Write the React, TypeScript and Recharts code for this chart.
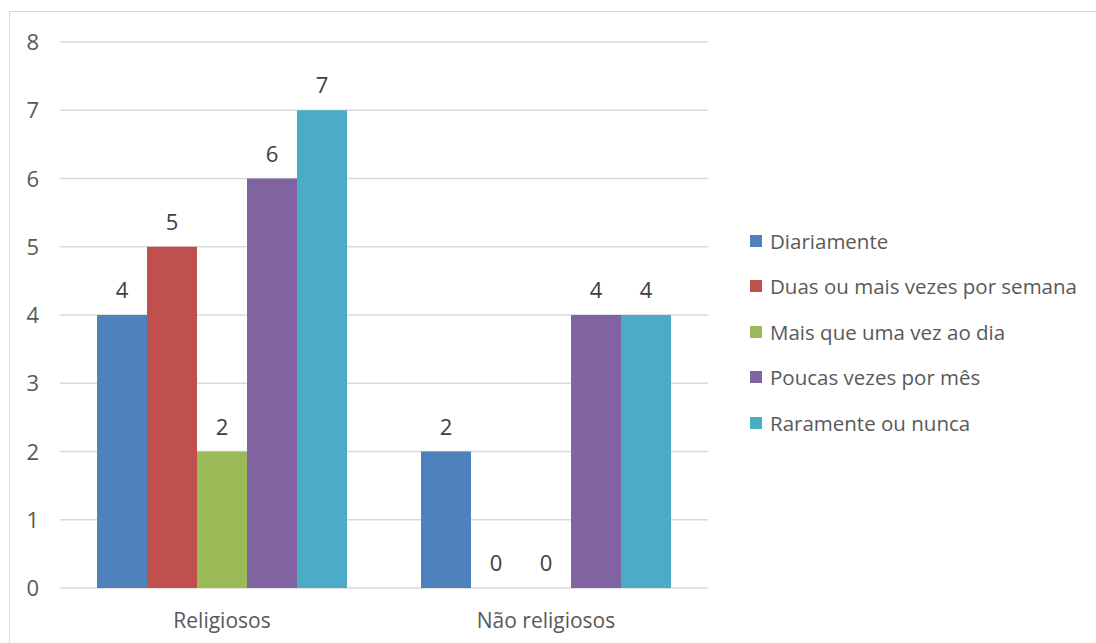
import React from 'react';
import { BarChart, Bar, XAxis, YAxis, CartesianGrid } from 'recharts';

const categories = ['Religiosos', 'Não religiosos'];
const diariamente = [4, 2];
const duasOuMais = [5, 0];
const maisQueUma = [2, 0];
const poucasVezes = [6, 4];
const raramente = [7, 4];
const yTicks = [0, 1, 2, 3, 4, 5, 6, 7, 8];

const series = [
  { key: 'diariamente', name: 'Diariamente', color: '#4F81BD', values: diariamente },
  { key: 'duas', name: 'Duas ou mais vezes por semana', color: '#C0504D', values: duasOuMais },
  { key: 'mais', name: 'Mais que uma vez ao dia', color: '#9BBB59', values: maisQueUma },
  { key: 'poucas', name: 'Poucas vezes por mês', color: '#8064A2', values: poucasVezes },
  { key: 'raramente', name: 'Raramente ou nunca', color: '#4BACC6', values: raramente },
];

const data = categories.map((name, i) => {
  const row: any = { name };
  series.forEach(s => { row[s.key] = s.values[i]; });
  return row;
});

const font = '"Open Sans", "Noto Sans", sans-serif';
const textColor = '#595959';

// столбик + подпись над ним (подпись рисуется и для нулевых значений)
const BarWithValue = (props: any) => {
  const { x, y, width, height, fill, value } = props;
  const v = Array.isArray(value) ? value[1] - value[0] : value;
  return (
    <g>
      {height > 0 && <rect x={x} y={y} width={width} height={height} fill={fill} />}
      <text x={x + width / 2} y={y - 17} textAnchor="middle" fill="#404040" fontSize={22} fontFamily={font}>
        {v}
      </text>
    </g>
  );
};

const YTick = (props: any) => {
  const { x, y, payload } = props;
  return (
    <text x={x - 6} y={y} dy={8} textAnchor="end" fill={textColor} fontSize={22} fontFamily={font}>
      {payload.value}
    </text>
  );
};

export default function App() {
  return (
    <div style={{ position: 'absolute', left: 0, top: 0, width: 1096, height: 643, background: '#fff', fontFamily: font, overflow: 'hidden' }}>
      {/* рамка диаграммы */}
      <div style={{ position: 'absolute', left: 9, top: 11, width: 1200, height: 800, border: '1px solid #d9d9d9' }} />
      <BarChart
        width={1096}
        height={643}
        data={data}
        margin={{ top: 42, right: 388, bottom: 0, left: 0 }}
        barGap={0}
        barCategoryGap={37}
        style={{ position: 'absolute', left: 0, top: 0 }}
      >
        <CartesianGrid vertical={false} stroke="#d9d9d9" strokeWidth={1.5} />
        <XAxis
          dataKey="name"
          height={55}
          axisLine={false}
          tickLine={false}
          tickSize={0}
          tickMargin={25}
          tick={{ fill: textColor, fontSize: 21, fontFamily: font }}
        />
        <YAxis
          width={60}
          domain={[0, 8]}
          ticks={yTicks}
          axisLine={false}
          tickLine={false}
          tickSize={0}
          tickMargin={15}
          tick={<YTick />}
        />
        {series.map(s => (
          <Bar key={s.key} dataKey={s.key} name={s.name} fill={s.color} isAnimationActive={false} shape={<BarWithValue />} />
        ))}
      </BarChart>
      {/* легенда */}
      <div style={{ position: 'absolute', left: 750, top: 218 }}>
        {series.map(s => (
          <div key={s.key} style={{ display: 'flex', alignItems: 'center', height: 45.5 }}>
            <span style={{ display: 'inline-block', width: 12, height: 12, background: s.color, marginRight: 8 }} />
            <span style={{ color: textColor, fontSize: 20.5 }}>{s.name}</span>
          </div>
        ))}
      </div>
    </div>
  );
}
